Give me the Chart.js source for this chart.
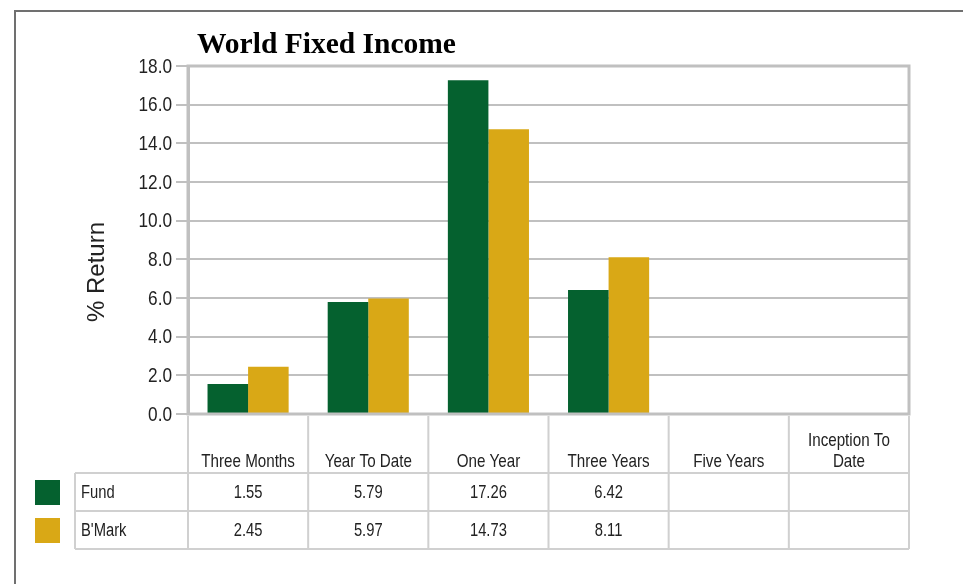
<!DOCTYPE html>
<html><head><meta charset="utf-8">
<script src="https://cdn.jsdelivr.net/npm/chart.js@4/dist/chart.umd.min.js"></script>
<style>html,body{margin:0;padding:0;background:#fff;overflow:hidden}#wrap{position:relative;width:963px;height:584px}</style>
</head><body><div id="wrap"><canvas id="c" width="963" height="584"></canvas></div>
<script>
const chartTitle = "World Fixed Income";
const yAxisTitle = "% Return";
const categories = ["Three Months", "Year To Date", "One Year", "Three Years", "Five Years", "Inception To Date"];
const seriesNames = ["Fund", "B'Mark"];
const fundValues = [1.55, 5.79, 17.26, 6.42, null, null];
const benchmarkValues = [2.45, 5.97, 14.73, 8.11, null, null];
const yMin = 0, yMax = 18, yStep = 2;

const GREEN = "#05612f", GOLD = "#d9a816";
const SANS = '"Liberation Sans", Arial, sans-serif';
const NARROW_SCALE = 0.82;
const TXT = "#222222";

function fillNarrow(ctx, text, x, y) {
  ctx.save();
  ctx.translate(x, y);
  ctx.scale(NARROW_SCALE, 1);
  ctx.fillText(text, 0, 0);
  ctx.restore();
}

const framePlugin = {
  id: "frame",
  beforeDraw(chart) {
    const ctx = chart.ctx;
    ctx.save();
    ctx.fillStyle = "#fff";
    ctx.fillRect(0, 0, chart.width, chart.height);
    ctx.strokeStyle = "#707070";
    ctx.lineWidth = 2;
    ctx.beginPath();
    ctx.moveTo(15, chart.height); ctx.lineTo(15, 11); ctx.lineTo(chart.width, 11);
    ctx.stroke();
    ctx.restore();
  },
  afterDraw(chart) {
    const ctx = chart.ctx, ca = chart.chartArea, xs = chart.scales.x, ys = chart.scales.y;
    ctx.save();
    // plot frame
    ctx.strokeStyle = "#c0c0c0";
    ctx.lineWidth = 3;
    ctx.strokeRect(ca.left, ca.top, ca.right - ca.left, ca.bottom - ca.top);

    // y tick labels (narrow face)
    ctx.font = "21px " + SANS;
    ctx.fillStyle = TXT;
    ctx.textAlign = "right"; ctx.textBaseline = "middle";
    ys.ticks.forEach(t => {
      fillNarrow(ctx, Number(t.value).toFixed(1), ca.left - 16, ys.getPixelForValue(t.value) + 1);
    });

    // chart title
    ctx.fillStyle = "#000";
    ctx.font = 'bold 29.5px "Liberation Serif", "Times New Roman", serif';
    ctx.textAlign = "left"; ctx.textBaseline = "alphabetic";
    ctx.fillText(chartTitle, ca.left + 9, ca.top - 13);

    // y axis title
    ctx.save();
    ctx.translate(ca.left - 91, ca.top + 206);
    ctx.rotate(-Math.PI / 2);
    ctx.font = "24px " + SANS;
    ctx.fillStyle = TXT; ctx.textAlign = "center"; ctx.textBaseline = "middle";
    ctx.fillText(yAxisTitle, 0, 0);
    ctx.restore();

    // data table
    const n = categories.length;
    const colW = (ca.right - ca.left) / n;
    const headerBottom = ca.bottom + 59;
    const rowH = 38;
    const tableBottom = headerBottom + rowH * 2;
    const labelLeft = ca.left - 113;
    ctx.strokeStyle = "#d0d0d0";
    ctx.lineWidth = 2;
    ctx.beginPath();
    for (let r = 0; r <= 2; r++) {
      const y = headerBottom + r * rowH;
      ctx.moveTo(labelLeft, y); ctx.lineTo(ca.right, y);
    }
    ctx.moveTo(labelLeft, headerBottom); ctx.lineTo(labelLeft, tableBottom);
    for (let i = 0; i <= n; i++) {
      const x = i < n ? xs.getPixelForValue(i) - colW / 2 : xs.getPixelForValue(n - 1) + colW / 2;
      ctx.moveTo(x, ca.bottom + 2); ctx.lineTo(x, tableBottom);
    }
    ctx.stroke();

    ctx.font = "18.5px " + SANS;
    ctx.fillStyle = TXT;
    ctx.textAlign = "center"; ctx.textBaseline = "alphabetic";
    categories.forEach((c, i) => {
      const cx = xs.getPixelForValue(i);
      const words = c.split(" ");
      const lines = [];
      let cur = "";
      words.forEach(w => {
        const t = cur ? cur + " " + w : w;
        if (ctx.measureText(t).width * NARROW_SCALE > colW - 14 && cur) { lines.push(cur); cur = w; } else cur = t;
      });
      lines.push(cur);
      lines.forEach((l, k) => {
        fillNarrow(ctx, l, cx, headerBottom - 6 - (lines.length - 1 - k) * 21);
      });
    });

    const rows = [fundValues, benchmarkValues];
    const cols = [GREEN, GOLD];
    ctx.font = "18px " + SANS;
    ctx.textBaseline = "middle";
    rows.forEach((vals, r) => {
      const cy = headerBottom + r * rowH + rowH / 2 + 1;
      ctx.fillStyle = cols[r];
      ctx.fillRect(ca.left - 153, cy - 13, 25, 25);
      ctx.fillStyle = TXT;
      ctx.textAlign = "left";
      fillNarrow(ctx, seriesNames[r], labelLeft + 6, cy);
      ctx.textAlign = "center";
      vals.forEach((v, i) => {
        if (v === null || v === undefined) return;
        fillNarrow(ctx, v.toFixed(2), xs.getPixelForValue(i), cy);
      });
    });
    ctx.restore();
  }
};

new Chart(document.getElementById("c"), {
  type: "bar",
  data: {
    labels: categories,
    datasets: [
      { label: seriesNames[0], data: fundValues, backgroundColor: GREEN, borderWidth: 0 },
      { label: seriesNames[1], data: benchmarkValues, backgroundColor: GOLD, borderWidth: 0 }
    ]
  },
  options: {
    responsive: false,
    animation: false,
    devicePixelRatio: 1,
    layout: { padding: { left: 75, top: 66, right: 54, bottom: 170 } },
    datasets: { bar: { categoryPercentage: 0.675, barPercentage: 1.0 } },
    plugins: { legend: { display: false }, tooltip: { enabled: false }, title: { display: false } },
    scales: {
      x: { display: false, offset: true, grid: { display: false } },
      y: {
        min: yMin, max: yMax,
        afterFit: s => { s.width = 113; },
        ticks: {
          stepSize: yStep,
          padding: 4,
          color: "rgba(0,0,0,0)",
          font: { family: SANS, size: 20 },
          callback: v => Number(v).toFixed(1)
        },
        grid: { color: "#c0c0c0", lineWidth: 2, tickLength: 12, drawTicks: true },
        border: { display: true, color: "#c0c0c0", width: 3 }
      }
    }
  },
  plugins: [framePlugin]
});
</script></body></html>
